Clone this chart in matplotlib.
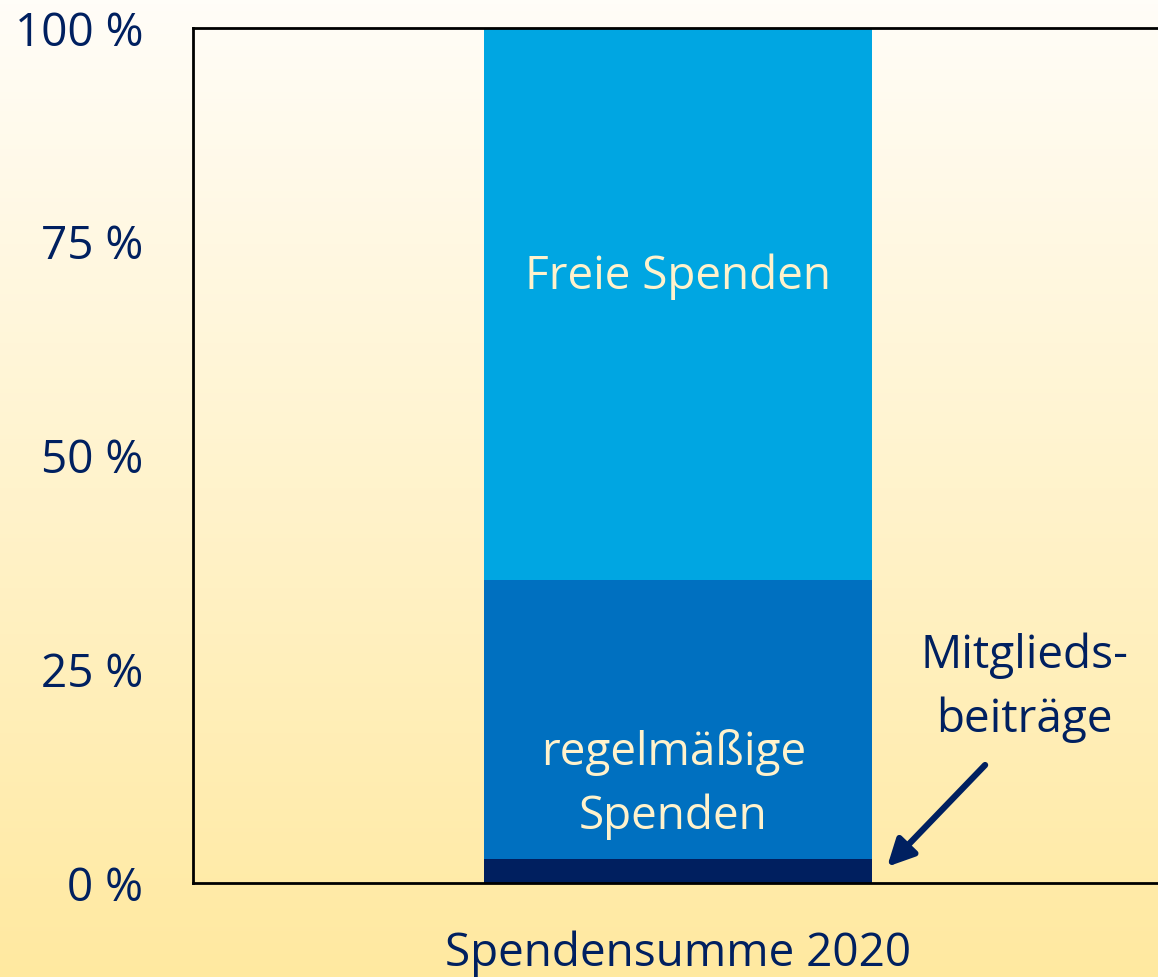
import numpy as np
import matplotlib.pyplot as plt

plt.rcParams['font.family'] = ['Open Sans', 'DejaVu Sans']

# Anteile an der Spendensumme 2020 (in %)
segments = ["Mitgliedsbeiträge", "regelmäßige Spenden", "Freie Spenden"]
values = [2.8, 32.6, 64.6]
colors = ["#001F5F", "#0070C0", "#00A6E2"]
category = ["Spendensumme 2020"]
yticks = [0, 25, 50, 75, 100]
ytick_labels = ["0 %", "25 %", "50 %", "75 %", "100 %"]

navy = "#002060"
cream = "#FFF2CC"
fs = 33

fig = plt.figure(figsize=(11.58, 9.77), dpi=100)

# Hintergrund-Verlauf
bg = fig.add_axes([0, 0, 1, 1])
grad = np.linspace(0, 1, 256).reshape(-1, 1)
top = np.array([255, 253, 248]) / 255
bottom = np.array([255, 233, 160]) / 255
img = top + (bottom - top) * grad[..., None]
bg.imshow(img, aspect="auto", extent=[0, 1, 0, 1], origin="upper")
bg.axis("off")

ax = fig.add_axes([0.1667, 0.0962, 0.8377, 0.8751])
ax.patch.set_alpha(0)

bottom_val = 0
for v, c in zip(values, colors):
    ax.bar(0, v, width=0.4, bottom=bottom_val, color=c)
    bottom_val += v

ax.set_xlim(-0.5, 0.5)
ax.set_ylim(0, 100)
ax.set_yticks(yticks)
ax.set_yticklabels(ytick_labels, color=navy, fontsize=fs)
ax.set_xticks([0])
ax.set_xticklabels(category, color=navy, fontsize=fs)
ax.tick_params(axis="y", length=0, pad=36)
ax.tick_params(axis="x", length=0, pad=34)
for s in ["left", "top", "bottom"]:
    ax.spines[s].set_linewidth(2)
ax.spines["right"].set_visible(False)

ax.text(0, 70.9, "Freie Spenden", color=cream, fontsize=fs, ha="center", va="center")
ax.text(-0.005, 11.5, "regelmäßige\nSpenden", color=cream, fontsize=fs,
        ha="center", va="center", linespacing=1.5)
ax.text(0.357, 22.8, "Mitglieds-\nbeiträge", color=navy, fontsize=fs,
        ha="center", va="center", linespacing=1.5)
ax.annotate("", xy=(0.2155, 1.9), xytext=(0.3165, 13.8),
            arrowprops=dict(arrowstyle="-|>,head_width=0.8,head_length=1.6",
                            color=navy, lw=4.5, shrinkA=0, shrinkB=0))

fig.savefig("out.png", dpi=100)
